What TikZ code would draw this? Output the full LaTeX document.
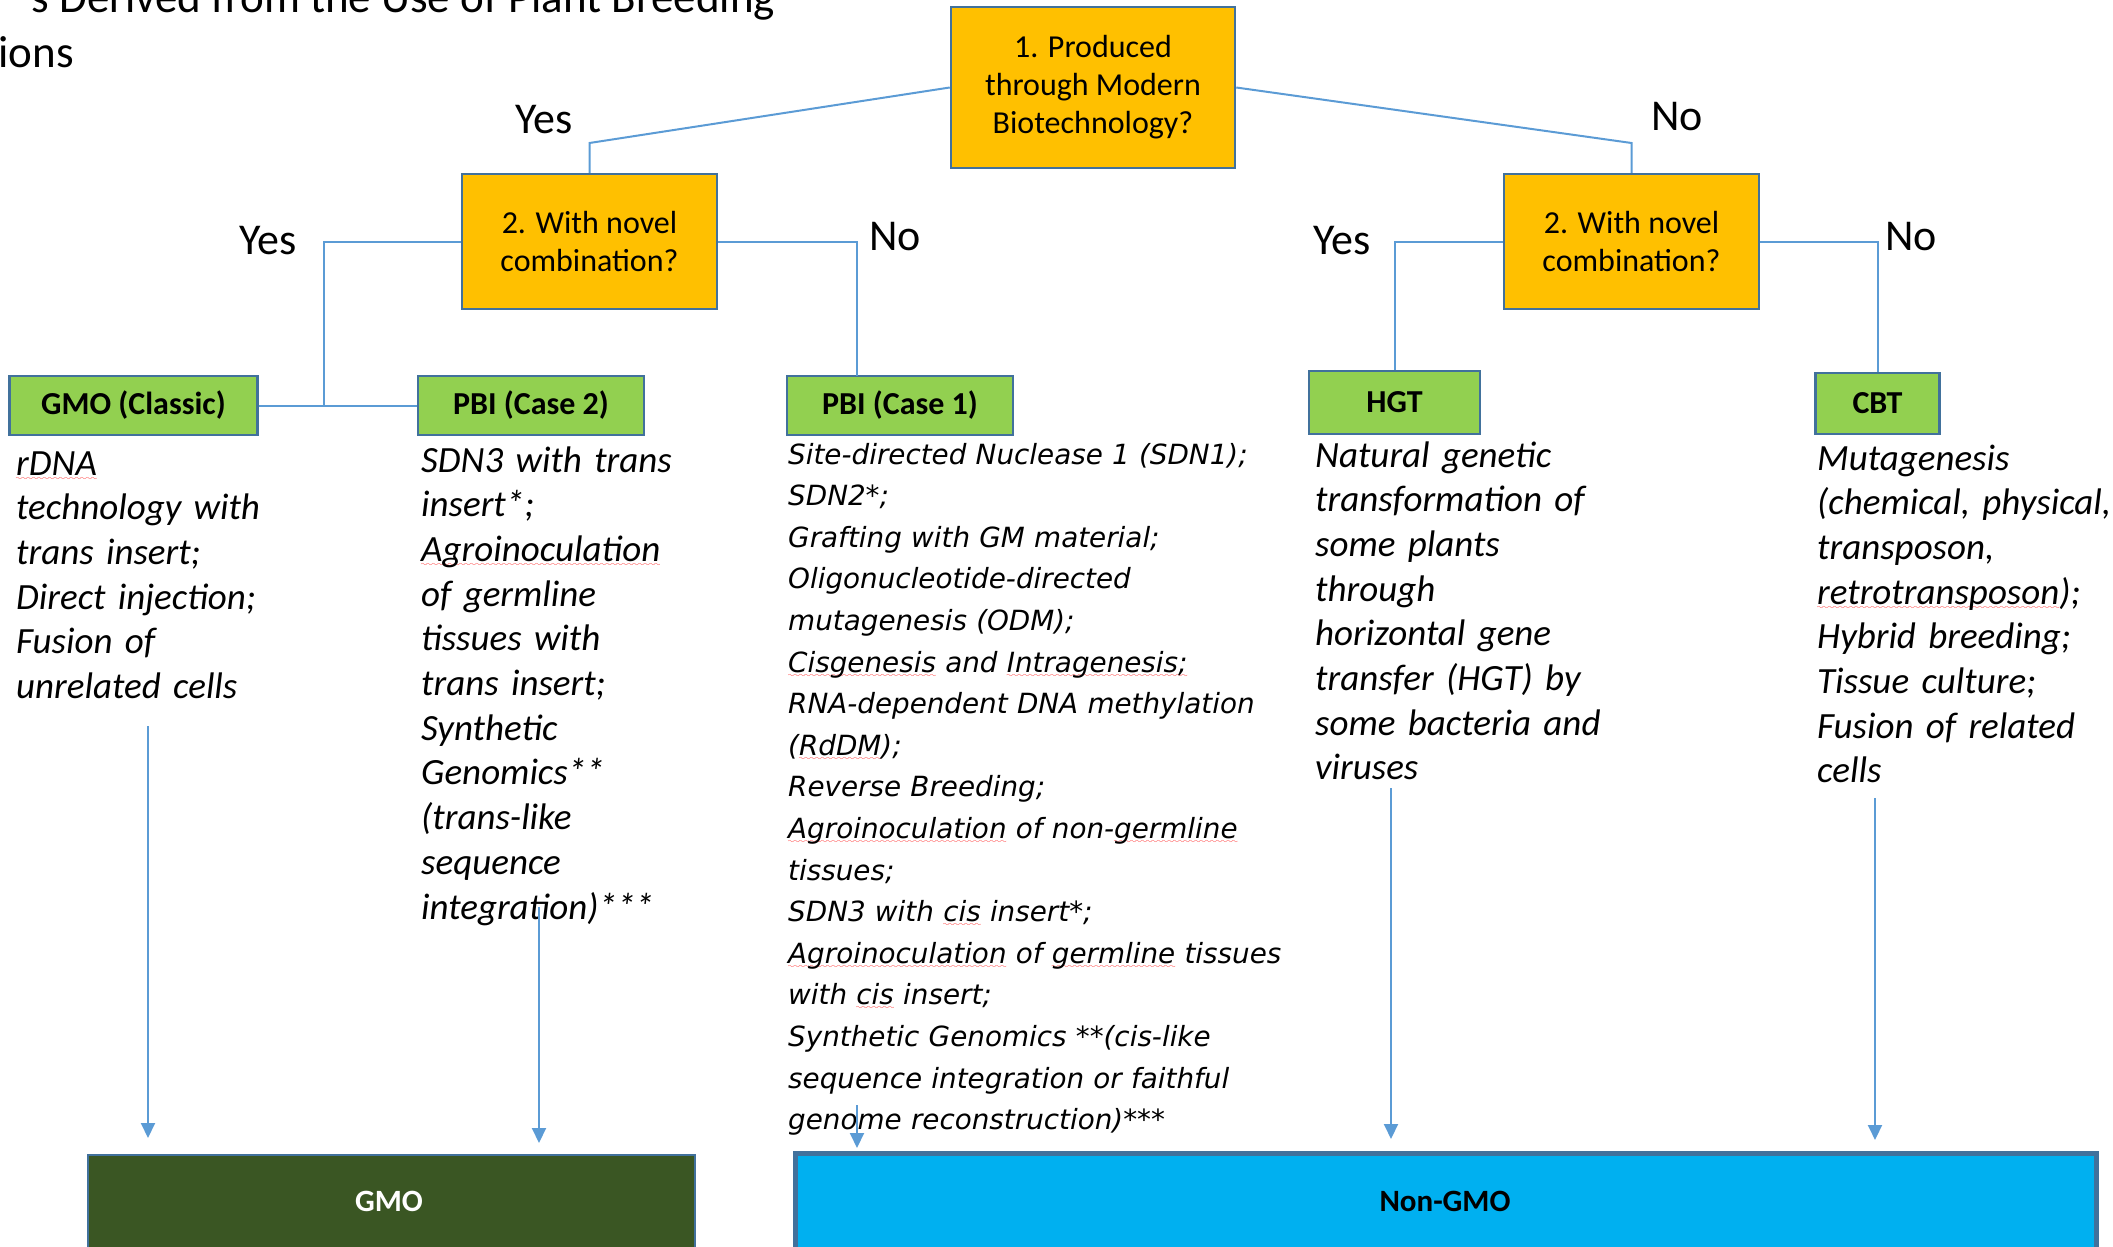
\documentclass[tikz,border=0pt]{standalone}
\usepackage{fontspec}
\setmainfont{Carlito}
\newfontfamily\verd{DejaVu Sans}
\usetikzlibrary{arrows.meta}
\definecolor{orangebox}{HTML}{FFC000}
\definecolor{greenbox}{HTML}{92D050}
\definecolor{boxedge}{HTML}{41719C}
\definecolor{linkblue}{HTML}{5B9BD5}
\definecolor{gmodark}{HTML}{3A5623}
\definecolor{nongmo}{HTML}{00B0F0}
\font\spellwave=lasy10 at 8pt
\newsavebox\spellbox
\newcommand\spell[1]{\leavevmode\sbox\spellbox{#1}\rlap{\textcolor{red}{\lower5pt\hbox to \wd\spellbox{\xleaders\hbox{\spellwave\char58}\hfill}}}\usebox\spellbox}
\begin{document}
\begin{tikzpicture}[x=1pt,y=-1pt,
  qbox/.style={draw=boxedge, line width=2.5pt, fill=orangebox, align=center, inner sep=0pt, font=\fontsize{32}{38}\selectfont},
  cbox/.style={draw=boxedge, line width=2.5pt, fill=greenbox, inner sep=0pt, font=\bfseries\fontsize{32}{38}\selectfont},
  ans/.style={font=\fontsize{44}{50}\selectfont, anchor=base west, inner sep=0pt},
  desc/.style={anchor=base west, inner sep=0pt, text width=700pt, align=left, font=\itshape\fontsize{37}{44.7}\selectfont},
  descv/.style={anchor=base west, inner sep=0pt, text width=700pt, align=left, font=\verd\itshape\fontsize{27.8}{41.6}\selectfont},
  conn/.style={draw=linkblue, line width=2pt},
  arr/.style={conn, -{Triangle[width=14pt,length=15pt]}}]
\useasboundingbox (0,0) rectangle (2113,1247);
\clip (0,0) rectangle (2113,1247);
% title fragment
\node[anchor=base east, inner sep=0pt, font=\fontsize{45}{54}\selectfont] (t1) at (775,13) {s Derived from the Use of Plant Breeding};
\node[anchor=base east, inner sep=0pt, font=\fontsize{45}{54}\selectfont] (t2) at (74,67) {ions};
% question boxes
\node[qbox, minimum width=284, minimum height=161] (q1) at (1093,87.5) {1. Produced\\through Modern\\Biotechnology?};
\node[qbox, minimum width=255, minimum height=135] (q2l) at (589.5,241.5) {2. With novel\\combination?};
\node[qbox, minimum width=255, minimum height=135] (q2r) at (1631.5,241.5) {2. With novel\\combination?};
% category boxes
\node[cbox, minimum width=248, minimum height=59] (gmoc) at (133.5,405.5) {GMO (Classic)};
\node[cbox, minimum width=226, minimum height=59] (pbi2) at (531,405.5) {PBI (Case 2)};
\node[cbox, minimum width=226, minimum height=59] (pbi1) at (900,405.5) {PBI (Case 1)};
\node[cbox, minimum width=171, minimum height=63] (hgt) at (1394.5,402.5) {HGT};
\node[cbox, minimum width=124, minimum height=61] (cbt) at (1877.5,403.5) {CBT};
% answer labels
\node[ans] (y0) at (515,133) {Yes};
\node[ans] (n0) at (1651,130) {No};
\node[ans] (y1) at (239,254) {Yes};
\node[ans] (n1) at (869,250) {No};
\node[ans] (y2) at (1313,254) {Yes};
\node[ans] (n2) at (1885,250) {No};
% connectors
\coordinate (jl) at (324,405.5);
\coordinate (p1in) at (857,376);
\draw[conn] (q1.west) -- (q2l.north |- 0,143) -- (q2l.north);
\draw[conn] (q1.east) -- (q2r.north |- 0,143) -- (q2r.north);
\draw[conn] (q2l.west) -| (jl);
\draw[conn] (gmoc.east) -- (pbi2.west);
\draw[conn] (q2l.east) -| (p1in);
\draw[conn] (q2r.west) -| (hgt.north);
\draw[conn] (q2r.east) -| (cbt.north);
% descriptions
\node[desc] (dgmo) at (16,475) {\spell{rDNA}\\technology with\\trans insert;\\Direct injection;\\Fusion of\\unrelated cells};
\node[desc] (dpbi2) at (421,472) {SDN3 with trans\\insert*;\\\spell{Agroinoculation}\\of germline\\tissues with\\trans insert;\\Synthetic\\Genomics**\\(trans-like\\sequence\\integration)***};
\node[descv] (dpbi1) at (788,464) {Site-directed Nuclease 1 (SDN1);\\SDN2*;\\Grafting with GM material;\\Oligonucleotide-directed\\mutagenesis (ODM);\\\spell{Cisgenesis} and \spell{Intragenesis;}\\RNA-dependent DNA methylation\\(\spell{RdDM});\\Reverse Breeding;\\\spell{Agroinoculation} of non-\spell{germline}\\tissues;\\SDN3 with \spell{cis} insert*;\\\spell{Agroinoculation} of \spell{germline} tissues\\with \spell{cis} insert;\\Synthetic Genomics **(cis-like\\sequence integration or faithful\\genome reconstruction)***};
\node[desc] (dhgt) at (1315,467) {Natural genetic\\transformation of\\some plants\\through\\horizontal gene\\transfer (HGT) by\\some bacteria and\\viruses};
\node[desc] (dcbt) at (1817,470) {Mutagenesis\\(chemical, physical,\\transposon,\\\spell{retrotransposon});\\Hybrid breeding;\\Tissue culture;\\Fusion of related\\cells};
% outcome boxes
\node[draw=boxedge, line width=2pt, fill=gmodark, minimum width=607, minimum height=140, inner sep=0pt] (gmo) at (391.5,1225) {};
\node[inner sep=0pt, text=white, font=\bfseries\fontsize{31}{36}\selectfont] (gmolab) at (389,1201) {GMO};
\node[draw=boxedge, line width=5pt, fill=nongmo, minimum width=1301, minimum height=150, inner sep=0pt] (ngmo) at (1445.5,1228) {};
\node[inner sep=0pt, text=black, font=\bfseries\fontsize{31}{36}\selectfont] (ngmolab) at (1445,1201) {Non-GMO};
% arrows
\coordinate (a1s) at (148,726);  \coordinate (a1e) at (148,1138);
\coordinate (a2s) at (539,907);  \coordinate (a2e) at (539,1143);
\coordinate (a3s) at (857,1105); \coordinate (a3e) at (857,1148);
\coordinate (a4s) at (1391,788); \coordinate (a4e) at (1391,1139);
\coordinate (a5s) at (1875,798); \coordinate (a5e) at (1875,1140);
\draw[arr] (a1s) -- (a1e);
\draw[arr] (a2s) -- (a2e);
\draw[arr] (a3s) -- (a3e);
\draw[arr] (a4s) -- (a4e);
\draw[arr] (a5s) -- (a5e);
\end{tikzpicture}
\end{document}
